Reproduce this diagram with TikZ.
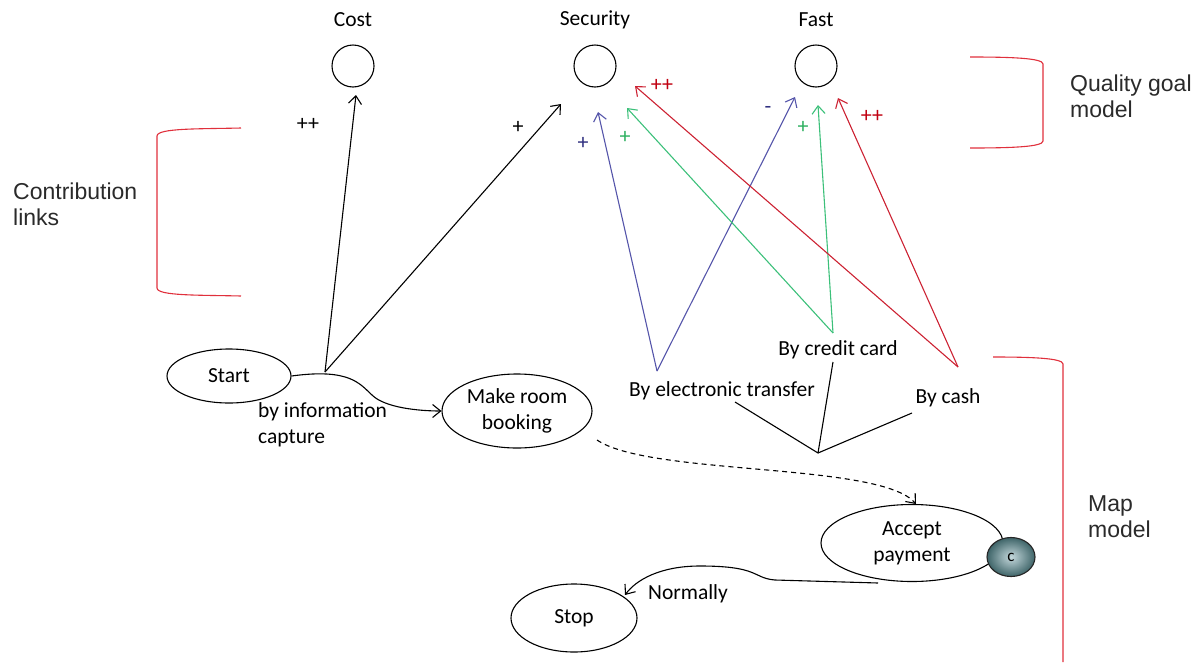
\documentclass[tikz,border=0pt]{standalone}
\usepackage{fontspec}
\setmainfont{Carlito}
\newfontfamily\brfont{Liberation Sans}
\usetikzlibrary{arrows.meta,shapes.geometric}
\definecolor{cblue}{HTML}{5555AA}
\definecolor{cgreen}{HTML}{3CC07A}
\definecolor{cred}{HTML}{CC2233}
\definecolor{lblue}{HTML}{303080}
\definecolor{lgreen}{HTML}{2EB060}
\definecolor{lred}{HTML}{C00010}
\definecolor{brred}{HTML}{E0303C}
\definecolor{txt}{HTML}{2A2A2A}
\definecolor{cin}{HTML}{C4D8DC}
\definecolor{cout}{HTML}{3E6468}
\tikzset{
  goal/.style={circle,draw,line width=1.1pt,minimum size=42pt,inner sep=0pt},
  intent/.style={ellipse,draw,line width=1.1pt,inner sep=0pt,align=center,font=\fontsize{21.5}{26}\selectfont},
  lbl/.style={font=\fontsize{21.5}{26}\selectfont,inner sep=0pt,align=center},
  sign/.style={font=\fontsize{22}{22}\selectfont,inner sep=0pt},
  brtext/.style={font=\brfont\fontsize{23}{26}\selectfont,text=txt,inner sep=0pt,align=left,anchor=west},
  link/.style={line width=1.1pt,-{Straight Barb[length=8pt,width=13pt]}},
  bracket/.style={draw=brred,line width=1.1pt},
}
\begin{document}
\begin{tikzpicture}[x=1pt,y=-1pt]
\useasboundingbox (0,0) rectangle (1197,662);
% goals
\node[goal] (cost) at (353,66) {};
\node[goal] (sec) at (595,66) {};
\node[goal] (fast) at (816,66) {};
\node[lbl] (costl) at (353,20) {Cost};
\node[lbl] (secl) at (595,20) {Security};
\node[lbl] (fastl) at (816,20) {Fast};
% map intentions
\node[intent,minimum width=124pt,minimum height=54pt] (start) at (229,376) {Start};
\node[intent,minimum width=150pt,minimum height=74pt] (mrb) at (517,411) {Make room\\booking};
\node[intent,minimum width=182pt,minimum height=77pt] (acc) at (912,543) {Accept\\payment};
\node[ellipse,draw=black!85,line width=1.1pt,minimum width=48pt,minimum height=39pt,inner sep=0pt,
      inner color=cin,outer color=cout,font=\fontsize{17}{17}\selectfont] (cnode) at (1011,557) {c};
\node[intent,minimum width=126pt,minimum height=68pt] (stop) at (574,618) {Stop};
% coordinates
\coordinate (j) at (325,372);
\coordinate (mid) at (372,395);
\coordinate (costtip) at (356,95);
\coordinate (sectipk) at (561,104);
\coordinate (eapex) at (657,371);
\coordinate (capex) at (833,333);
\coordinate (kapex) at (958,367);
\coordinate (sectipb) at (598,112);
\coordinate (fasttipb) at (795,97);
\coordinate (sectipg) at (627,108);
\coordinate (fasttipg) at (818,105);
\coordinate (sectipr) at (635,86);
\coordinate (fasttipr) at (838,98);
\coordinate (orj) at (818,453);
\coordinate (ore) at (735,402);
\coordinate (orc) at (833,362);
\coordinate (ork) at (912,413);
\coordinate (mrbout) at (597,440);
\coordinate (accin) at (916,504);
\coordinate (accout) at (878,583);
\coordinate (stopin) at (625,595);
% strategy labels
\node[lbl] (elec) at (722,391) {By electronic transfer};
\node[lbl] (ccard) at (838,350) {By credit card};
\node[lbl] (cash) at (948,398) {By cash};
\node[lbl,align=left,anchor=north west] (info) at (258,402) {by information\\capture};
\node[lbl] (norm) at (688,594) {Normally};
% section from start
\draw[link] (start.east) .. controls (350,368) and (360,384) .. (mid) .. controls (385,408) and (420,411) .. (mrb.west);
\draw[link] (j) -- (costtip);
\draw[link] (j) -- (sectipk);
\node[sign] (pp1) at (308,124) {++};
\node[sign] (p1) at (518,127) {+};
% blue
\draw[link,cblue] (eapex) -- (sectipb);
\draw[link,cblue] (eapex) -- (fasttipb);
\node[sign,text=lblue] (p2) at (583,143) {+};
\node[sign,text=lblue] (m2) at (768,110) {-};
% green
\draw[link,cgreen] (capex) -- (sectipg);
\draw[link,cgreen] (capex) -- (fasttipg);
\node[sign,text=lgreen] (p3) at (625,137) {+};
\node[sign,text=lgreen] (p4) at (803,127) {+};
% red
\draw[link,cred] (kapex) -- (sectipr);
\draw[link,cred] (kapex) -- (fasttipr);
\node[sign,text=lred] (pp2) at (662,85) {++};
\node[sign,text=lred] (pp3) at (872,116) {++};
% OR fork
\draw[line width=1.1pt] (ore) -- (orj) -- (ork);
\draw[line width=1.1pt] (orc) -- (orj);
% dashed
\draw[link,dash pattern=on 5pt off 4pt] (mrbout) .. controls (650,476) and (880,462) .. (accin);
% accept to stop
\draw[link] (accout) -- (775,580) .. controls (752,578) and (760,566) .. (700,566) .. controls (660,566) and (636,580) .. (stopin);
% brackets
\draw[bracket] (241,128) .. controls (200,129) and (157,128) .. (157,136) -- (157,288) .. controls (157,296) and (200,295) .. (241,296);
\draw[bracket] (970,57) .. controls (1010,57) and (1043,58) .. (1043,64) -- (1043,141) .. controls (1043,147) and (1010,148) .. (970,148);
\draw[bracket] (993,357) .. controls (1030,357) and (1063,358) .. (1063,364) -- (1063,662);
\node[brtext] (cl) at (13,204) {Contribution\\links};
\node[brtext] (ql) at (1070,96) {Quality goal\\model};
\node[brtext] (ml) at (1088,517) {Map\\model};
\end{tikzpicture}
\end{document}
